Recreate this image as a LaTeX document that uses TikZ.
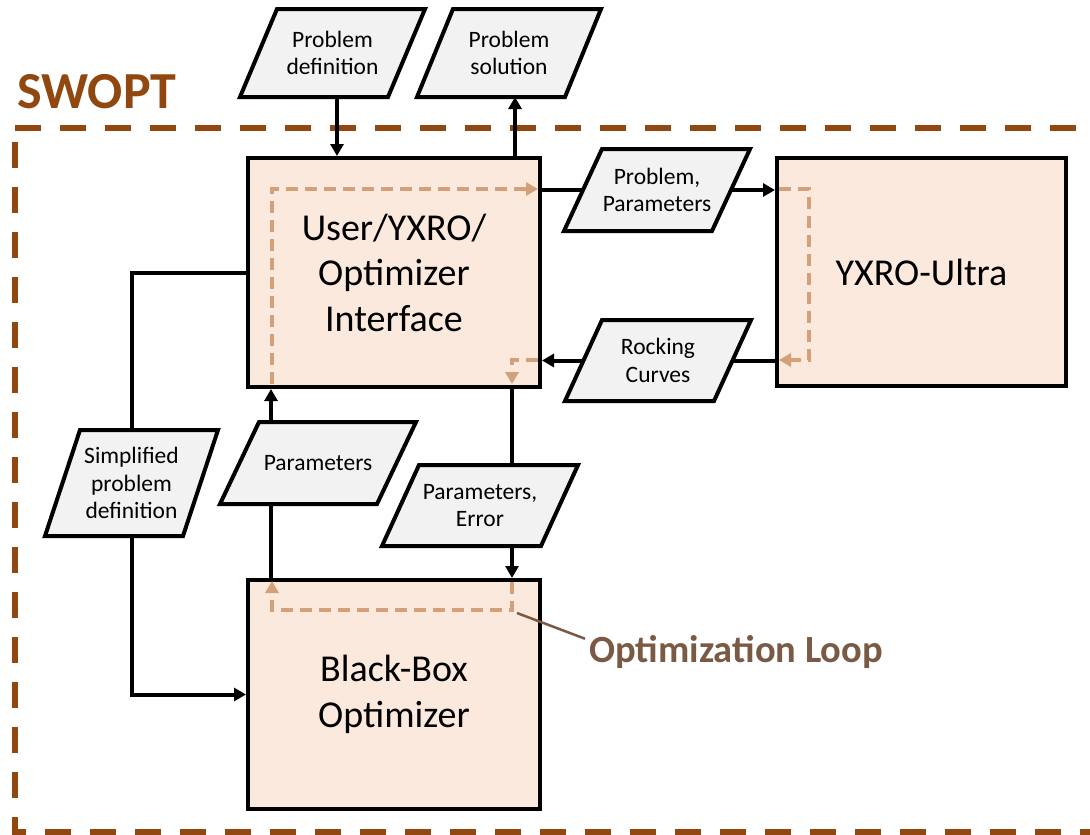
\documentclass[tikz,border=0pt]{standalone}
\usepackage{fontspec}
\setmainfont{Carlito}
\usetikzlibrary{arrows.meta,calc}
\definecolor{boxfill}{RGB}{251,233,221}
\definecolor{iofill}{RGB}{242,242,242}
\definecolor{swopt}{RGB}{145,72,16}
\definecolor{loopc}{RGB}{212,160,122}
\definecolor{callc}{RGB}{123,90,69}
\newcommand{\ioshape}[7]{%
  \draw[iobox] ({#2-#4/2+#6},{#3-#5/2}) -- ({#2+#4/2},{#3-#5/2}) -- ({#2+#4/2-#6},{#3+#5/2}) -- ({#2-#4/2},{#3+#5/2}) -- cycle;
  \node[iotext, minimum width=#4pt, minimum height=#5pt] (#1) at (#2,#3) {#7};
}
\begin{document}
\begin{tikzpicture}[x=1pt,y=-1pt,
  proc/.style={draw=black, line width=4pt, fill=boxfill, align=center, font=\fontsize{38}{45.5}\selectfont, inner sep=0pt},
  iotext/.style={inner sep=0pt, outer sep=0pt, align=center, font=\fontsize{23.5}{27.5}\selectfont},
  iobox/.style={draw=black, line width=4pt, fill=iofill, line join=miter},
  conn/.style={draw=black, line width=4pt},
  arr/.style={conn, -{Triangle[length=12pt,width=13pt]}},
  loopline/.style={draw=loopc, line width=4pt, dash pattern=on 12pt off 7pt, -{Triangle[length=12pt,width=13pt]}},
  border/.style={draw=swopt, line width=6pt, dash pattern=on 26pt off 19pt},
]
\useasboundingbox (0,0) rectangle (1090,835);
% SWOPT boundary
\begin{scope}
  \clip (0,0) rectangle (1090,835);
  \draw[border] (15,128) -- (1120,128);
  \draw[border, dash phase=31pt] (15,128) -- (15,832) -- (1120,832);
\end{scope}
\node[anchor=base west, text=swopt, font=\bfseries\fontsize{52}{62}\selectfont, inner sep=0pt] (sw) at (17,108) {SWOPT};

% process boxes
\node[proc, minimum width=292pt, minimum height=229pt] (ifc) at (394,272.5) {\raisebox{0pt}[0pt][0pt]{}User/YXRO/\\Optimizer\\Interface};
\node[proc, minimum width=289pt, minimum height=228pt] (yx) at (921.5,272) {YXRO-Ultra};
\node[proc, minimum width=292pt, minimum height=229pt] (bbo) at (394,694.5) {Black-Box\\Optimizer};

% data (parallelogram) shapes
\ioshape{pd}{332.5}{53}{185}{88}{37}{Problem\\definition}
\ioshape{ps}{509}{53}{184}{88}{36}{Problem\\solution}
\ioshape{pp}{657}{190}{186}{82}{38}{Problem,\\Parameters}
\ioshape{rc}{658}{360.5}{186}{81}{37}{Rocking\\Curves}
\ioshape{par}{318}{463}{196}{82}{39}{Parameters}
\ioshape{pe}{480}{505.5}{196}{81}{37}{Parameters,\\Error}
\ioshape{sp}{131.5}{483}{173}{106}{35}{Simplified\\problem\\definition}

% connector x positions
\coordinate (xa) at (337,0);
\coordinate (xb) at (515,0);
\coordinate (xc) at (512,0);
\coordinate (xd) at (271,0);

% connectors
\draw[arr] (pd.south -| xa) -- (xa |- ifc.north);
\draw[arr] (ifc.north -| xb) -- (xb |- ps.south);
\draw[conn] (ifc.east |- pp.west) -- ([xshift=19pt]pp.west);
\draw[arr] ([xshift=-19pt]pp.east) -- (yx.west |- pp.east);
\draw[conn] (yx.west |- rc.east) -- ([xshift=-18.5pt]rc.east);
\draw[arr] ([xshift=18.5pt]rc.west) -- (ifc.east |- rc.west);
\draw[conn] (ifc.south -| xc) -- (xc |- pe.north);
\draw[arr] (pe.south -| xc) -- (xc |- bbo.north);
\draw[conn] (bbo.north -| xd) -- (xd |- par.south);
\draw[arr] (par.north -| xd) -- (xd |- ifc.south);
\draw[conn] (ifc.west) -| (sp.north);
\draw[arr] (sp.south) |- (bbo.west);

% optimization loop
\draw[loopline] (272,384) -- (272,189) -- (538,189);
\draw[loopline] (538,360) -- (512,360) -- (512,384);
\draw[loopline] (779,189) -- (809,189) -- (809,360) -- (779,360);
\draw[loopline] (512,582) -- (512,610) -- (272,610) -- (272,581);

% callout
\coordinate (lc) at (517,613);
\node[anchor=base west, text=callc, font=\bfseries\fontsize{38.5}{46}\selectfont, inner sep=0pt] (ol) at (589,662) {Optimization Loop};
\draw[callc, line width=2.5pt] (lc) -- ([xshift=-4pt,yshift=-4pt]ol.north west);
\end{tikzpicture}
\end{document}
